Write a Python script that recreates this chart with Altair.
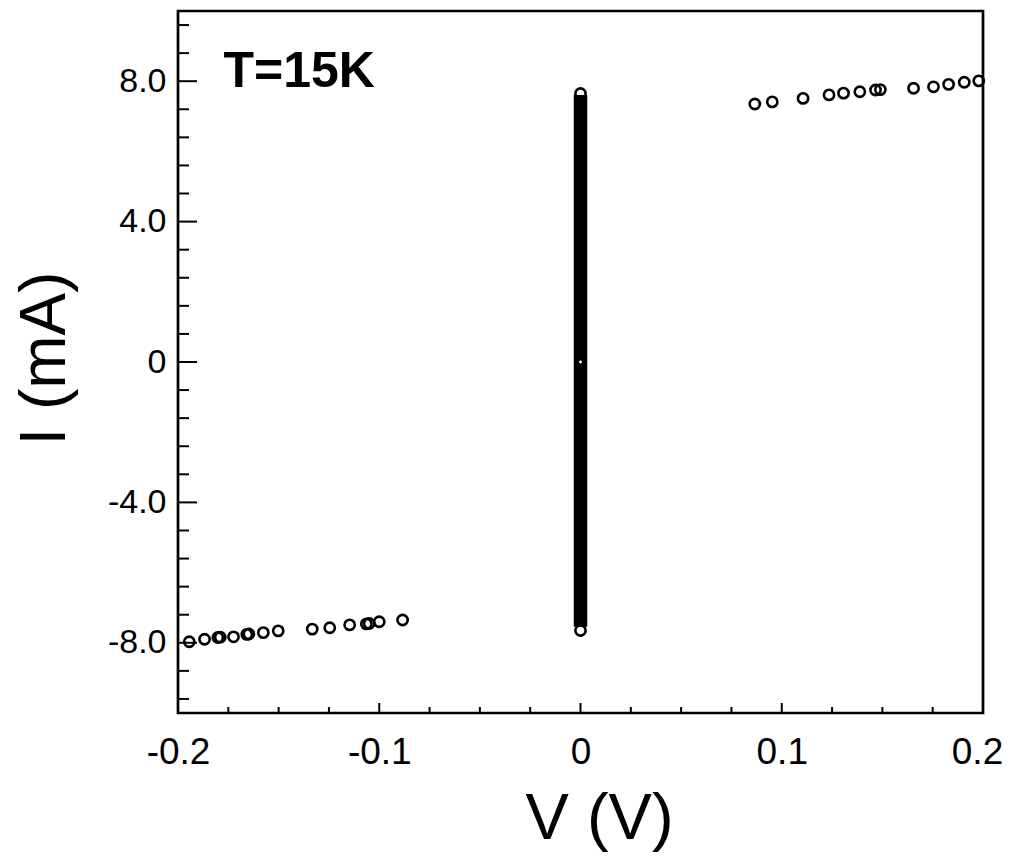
import altair as alt
import pandas as pd

# ---- data ----
# negative-voltage branch
v_neg = [-0.1944, -0.1868, -0.1802, -0.1790, -0.1724, -0.1658, -0.1648, -0.1576,
         -0.1502, -0.1333, -0.1246, -0.1147, -0.1064, -0.1050, -0.1000, -0.0884]
i_neg = [-7.97, -7.90, -7.85, -7.84, -7.83, -7.76, -7.75, -7.71,
         -7.66, -7.61, -7.57, -7.49, -7.46, -7.45, -7.40, -7.35]
# positive-voltage branch
v_pos = [0.0866, 0.0953, 0.1106, 0.1235, 0.1307, 0.1388, 0.1466, 0.1490,
         0.1655, 0.1754, 0.1829, 0.1907, 0.1979]
i_pos = [7.35, 7.41, 7.51, 7.61, 7.66, 7.70, 7.75, 7.76,
         7.80, 7.84, 7.91, 7.97, 8.01]
# supercurrent branch at V = 0 (dense column of points)
col_v = [0.0, 0.0]
col_end_i = [-7.65, 7.65]
col_bar_lo = [-7.54]
col_bar_hi = [7.61]
zero_v = [0.0]
zero_i = [0.0]

# axis ticks
x_labels = [-0.2, -0.1, 0.0, 0.1, 0.2]
x_major = [-0.1, 0.0, 0.1]
x_minor = [-0.175, -0.15, -0.125, -0.075, -0.05, -0.025,
           0.025, 0.05, 0.075, 0.125, 0.15, 0.175]
y_labels = [-8, -4, 0, 4, 8]
y_major = [-8, -4, 0, 4, 8]
y_minor = [-9.6, -8.8, -7.2, -6.4, -5.6, -4.8, -3.2, -2.4, -1.6, -0.8,
           0.8, 1.6, 2.4, 3.2, 4.8, 5.6, 6.4, 7.2, 8.8, 9.6]

note_text = ["T=15K"]
note_v = [-0.1774]
note_i = [7.83]

# ---- tables ----
pts = pd.DataFrame({"V": v_neg + v_pos, "I": i_neg + i_pos})
ends = pd.DataFrame({"V": col_v, "I": col_end_i})
bar = pd.DataFrame({"V": [0.0], "lo": col_bar_lo, "hi": col_bar_hi})
zero = pd.DataFrame({"V": zero_v, "I": zero_i})
note = pd.DataFrame({"V": note_v, "I": note_i, "t": note_text})

FONT = "Liberation Sans"
xs = alt.Scale(domain=[-0.2, 0.2], nice=False, zero=False)
ys = alt.Scale(domain=[-10, 10], nice=False, zero=False)

lbl_expr = ("datum.value == 0 ? '0' : (datum.value < 0 ? '-' + format(-datum.value, '.1f') "
            ": format(datum.value, '.1f'))")

x_axis = alt.Axis(
    values=x_labels, labelExpr=lbl_expr, ticks=False, tickSize=0, domain=False, grid=False,
    labelFont=FONT, labelFontSize=37, labelColor="black", labelPadding=21,
    labelFlush=False, labelOverlap=False, labelBound=False,
    labelOffset={"condition": {"test": "datum.value > 0.15", "value": -6}, "value": 0},
    title="V (V)", titleFont=FONT, titleFontSize=65, titleFontWeight="normal",
    titleColor="black", titleX=421, titleY=125, titleAlign="center",
    titleBaseline="alphabetic",
)
y_axis = alt.Axis(
    values=y_labels, labelExpr=lbl_expr, ticks=False, tickSize=0, domain=False, grid=False,
    labelFont=FONT, labelFontSize=34, labelColor="black", labelPadding=12,
    labelFlush=False, labelOverlap=False, labelBound=False, labelBaseline="middle",
    title="I (mA)", titleFont=FONT, titleFontSize=64, titleFontWeight="normal",
    titleColor="black", titleAngle=270, titleX=-114, titleY=347, titleAlign="center",
    titleBaseline="alphabetic",
)

def X(field):
    return alt.X(field, scale=xs, axis=x_axis, title="V (V)")

def Y(field):
    return alt.Y(field, scale=ys, axis=y_axis, title="I (mA)")

MSIZE = 105
MSTROKE = 2.6

base_pts = alt.Chart(pts).mark_point(
    shape="circle", filled=False, stroke="black", strokeWidth=MSTROKE, size=MSIZE, opacity=1
).encode(x=X("V:Q"), y=Y("I:Q"))

end_pts = alt.Chart(ends).mark_point(
    shape="circle", filled=True, fill="white", stroke="black", strokeWidth=MSTROKE,
    size=MSIZE, opacity=1, fillOpacity=1
).encode(x=X("V:Q"), y=Y("I:Q"))

bar_rule = alt.Chart(bar).mark_rule(color="black", strokeWidth=13.5, strokeCap="butt").encode(
    x=X("V:Q"), y=Y("lo:Q"), y2="hi:Q",
)

zero_dot = alt.Chart(zero).mark_point(
    shape="circle", filled=True, color="white", size=8, opacity=1
).encode(x=X("V:Q"), y=Y("I:Q"))

def xt(vals, length):
    return alt.Chart(pd.DataFrame({"t": vals})).mark_rule(color="black", strokeWidth=2).encode(
        x=X("t:Q"),
        y=alt.value(702),
        y2=alt.value(702 - length),
    )

def yt(vals, length):
    return alt.Chart(pd.DataFrame({"t": vals})).mark_rule(color="black", strokeWidth=2).encode(
        y=Y("t:Q"),
        x=alt.value(0),
        x2=alt.value(length),
    )

label = alt.Chart(note).mark_text(
    font=FONT, fontSize=50, fontWeight="bold", color="black",
    align="left", baseline="alphabetic"
).encode(x=X("V:Q"), y=Y("I:Q"), text="t:N")

chart = alt.layer(
    base_pts, end_pts, bar_rule, zero_dot,
    xt(x_minor, 6), xt(x_major, 10), yt(y_minor, 11), yt(y_major, 19),
    label,
).properties(
    width=805, height=702,
    autosize=alt.AutoSizeParams(type="none"),
    padding={"left": 170, "top": 3, "right": 20, "bottom": 140},
    background="white",
).configure_view(
    stroke="black", strokeWidth=2.7
)

chart.save("out.html", embed_options={"renderer": "svg", "actions": False})
